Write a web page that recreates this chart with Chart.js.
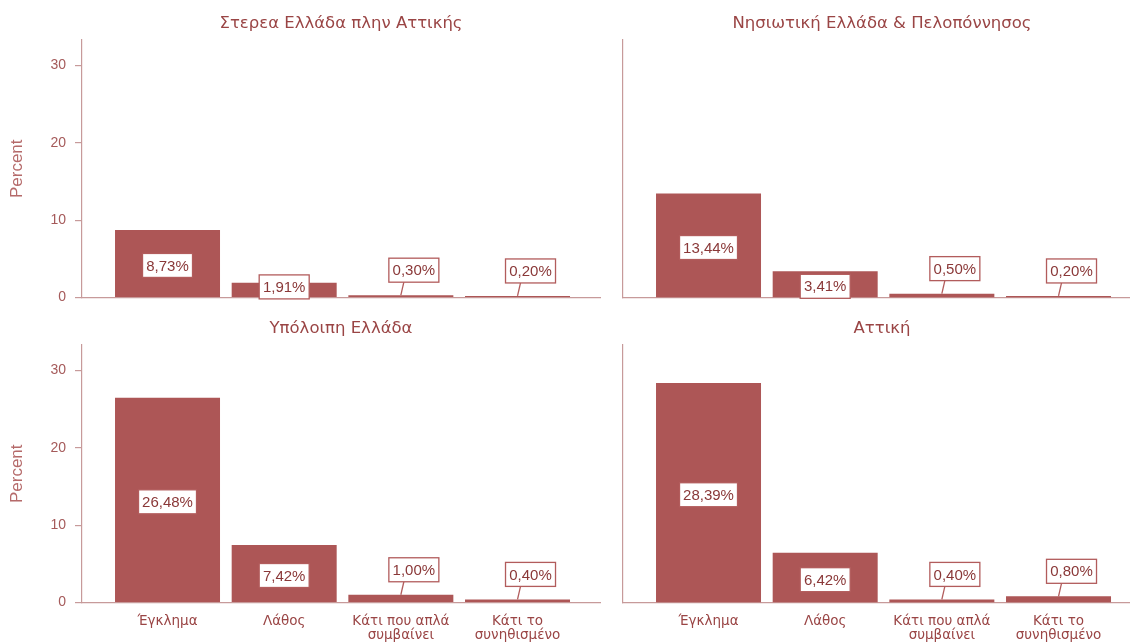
<!DOCTYPE html>
<html>
<head>
<meta charset="utf-8">
<script src="https://cdn.jsdelivr.net/npm/chart.js@4.4.1/dist/chart.umd.min.js"></script>
<style>
  html, body { margin: 0; padding: 0; background: #ffffff; width: 1130px; height: 644px; overflow: hidden; position: relative; }
  canvas { position: absolute; }
</style>
</head>
<body>
<canvas id="pStereaEllada" width="605" height="316" style="left:0;top:0"></canvas>
<canvas id="pNisiotiki" width="605" height="316" style="left:541px;top:0"></canvas>
<canvas id="pYpoloipi" width="605" height="339" style="left:0;top:305px"></canvas>
<canvas id="pAttiki" width="605" height="339" style="left:541px;top:305px"></canvas>
<script>
// Answer categories (multi-line labels under the bottom row of panels)
const categories = [['Έγκλημα'], ['Λάθος'], ['Κάτι που απλά', 'συμβαίνει'], ['Κάτι το', 'συνηθισμένο']];

// Panel titles (regions)
const regionStereaEllada = 'Στερεα Ελλάδα πλην Αττικής';
const regionNisiotiki = 'Νησιωτική Ελλάδα & Πελοπόννησος';
const regionYpoloipi = 'Υπόλοιπη Ελλάδα';
const regionAttiki = 'Αττική';

// Percent of respondents per answer, per region
const valuesStereaEllada = [8.73, 1.91, 0.30, 0.20];
const valuesNisiotiki = [13.44, 3.41, 0.50, 0.20];
const valuesYpoloipi = [26.48, 7.42, 1.00, 0.40];
const valuesAttiki = [28.39, 6.42, 0.40, 0.80];

// Y axis ticks
const yTicks = [0, 10, 20, 30];
const yMax = 33.3;

const SANS = '"Liberation Sans", Arial, sans-serif';
const WIDE = '"DejaVu Sans", Verdana, sans-serif';
const BAR = '#ad5656';
const AXIS = '#c79a9a';
const BOX_EDGE = '#b25c5c';
const TEXT = '#9a4545';

// White boxed value labels, with a leader line for very short bars
const valueBoxes = {
  id: 'valueBoxes',
  afterDatasetsDraw(chart) {
    const ctx = chart.ctx;
    const meta = chart.getDatasetMeta(0);
    const data = chart.data.datasets[0].data;
    ctx.save();
    ctx.font = '15px ' + SANS;
    ctx.textAlign = 'center';
    ctx.textBaseline = 'middle';
    meta.data.forEach((bar, i) => {
      const v = data[i].y;
      const text = v.toFixed(2).replace('.', ',') + '%';
      const w = Math.round(ctx.measureText(text).width + 7);
      const h = 24;
      const barH = bar.base - bar.y;
      let cx, cy;
      ctx.strokeStyle = BOX_EDGE;
      ctx.lineWidth = 1.3;
      if (barH >= 12) {
        cx = bar.x;
        cy = Math.min((bar.y + bar.base) / 2 + 2, bar.base - h / 2 + 2);
      } else {
        cx = bar.x + 13;
        const bottom = bar.y - 13;
        cy = bottom - h / 2;
        ctx.beginPath();
        ctx.moveTo(bar.x + 3, bottom);
        ctx.lineTo(bar.x, bar.y);
        ctx.stroke();
      }
      ctx.fillStyle = '#ffffff';
      ctx.fillRect(cx - w / 2, cy - h / 2, w, h);
      ctx.strokeRect(cx - w / 2, cy - h / 2, w, h);
      ctx.fillStyle = '#8a3838';
      ctx.fillText(text, cx, cy + 1);
    });
    ctx.restore();
  }
};

function makePanel(id, title, values, showY, showX) {
  return new Chart(document.getElementById(id), {
    type: 'bar',
    data: {
      datasets: [{
        data: values.map((v, i) => ({ x: i, y: v })),
        backgroundColor: BAR,
        borderWidth: 0,
        barPercentage: 0.9,
        categoryPercentage: 1
      }]
    },
    options: {
      responsive: false,
      animation: false,
      layout: { padding: { top: 0, right: 5, bottom: 0, left: 0 } },
      plugins: {
        legend: { display: false },
        tooltip: { enabled: false },
        title: {
          display: true,
          text: title,
          fullSize: false,
          color: TEXT,
          font: { family: WIDE, size: 16.5, weight: 'normal', lineHeight: 1.2 },
          padding: { top: 13.5, bottom: 6.7 }
        }
      },
      scales: {
        x: {
          type: 'linear',
          min: -0.733,
          max: 3.707,
          offset: false,
          afterBuildTicks: (s) => { s.ticks = categories.map((_, i) => ({ value: i })); },
          grid: { display: false, drawTicks: false, offset: false },
          border: { color: AXIS, width: 1.2 },
          ticks: {
            display: showX,
            autoSkip: false,
            maxRotation: 0,
            callback: (v) => categories[v],
            padding: 11.5,
            color: TEXT,
            font: { family: WIDE, size: 13.5, lineHeight: 1.07 }
          },
          afterFit: (s) => { s.height = showX ? 41.5 : 18.5; }
        },
        y: {
          min: 0,
          max: yMax,
          afterBuildTicks: (s) => { s.ticks = yTicks.map((t) => ({ value: t })); },
          grid: { display: showY, drawOnChartArea: false, drawTicks: true, tickLength: 7, color: AXIS, lineWidth: 1.2 },
          border: { color: AXIS, width: 1.2 },
          ticks: { display: showY, padding: 9, color: '#a55a5a', font: { family: SANS, size: 14 } },
          title: {
            display: showY,
            text: 'Percent',
            color: '#b56a6a',
            font: { family: SANS, size: 17 },
            padding: { top: 7, bottom: 0 }
          },
          afterFit: (s) => { s.width = 82; }
        }
      }
    },
    plugins: [valueBoxes]
  });
}

makePanel('pStereaEllada', regionStereaEllada, valuesStereaEllada, true, false);
makePanel('pNisiotiki', regionNisiotiki, valuesNisiotiki, false, false);
makePanel('pYpoloipi', regionYpoloipi, valuesYpoloipi, true, true);
makePanel('pAttiki', regionAttiki, valuesAttiki, false, true);
</script>
</body>
</html>
